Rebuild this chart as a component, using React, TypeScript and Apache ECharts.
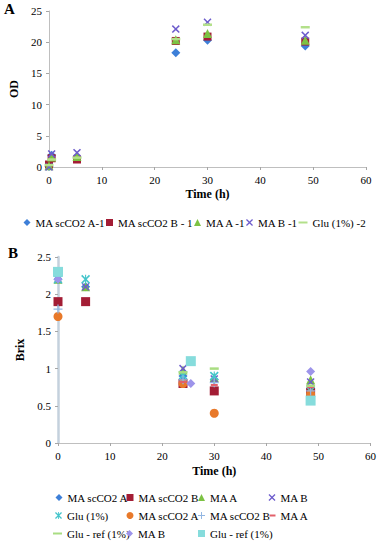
import React, { useEffect, useRef } from "react";
import * as echarts from "echarts";

const FONT = "Liberation Serif";

// ---------- Panel A : OD vs time ----------
const odMAscCO2A1 = [[0, 0.1], [0.5, 1.9], [5.3, 1.6], [24, 18.3], [30, 20.3], [48.5, 19.4]];
const odMAscCO2B1 = [[0, 0.4], [0.5, 1.4], [5.3, 1.2], [24, 20.2], [30, 20.9], [48.5, 20.1]];
const odMAA1 = [[0, 0.2], [0.5, 1.6], [5.3, 1.7], [24, 20.4], [30, 21.4], [48.5, 20.3]];
const odMAB1 = [[0, 0], [0.5, 2.1], [5.3, 2.3], [24, 22.1], [30, 23.2], [48.5, 21.1]];
const odGlu2 = [[0, 0.3], [0.5, 1.2], [5.3, 1.5], [24, 20.5], [30, 22.8], [48.5, 22.4]];

// ---------- Panel B : Brix vs time ----------
const bxMAscCO2A = [[0, 2.2], [5.3, 2.1], [24, 0.9], [30, 0.85], [48.5, 0.7]];
const bxMAscCO2B = [[0, 1.9], [5.3, 1.9], [24, 0.8], [30, 0.7], [48.5, 0.68]];
const bxMAA = [[0, 2.2], [5.3, 2.1], [24, 0.98], [30, 0.88], [48.5, 0.85]];
const bxMAB = [[0, 2.2], [5.3, 2.1], [24, 1.0], [30, 0.86], [48.5, 0.82]];
const bxGlu = [[0, 2.2], [5.3, 2.2], [24, 0.91], [30, 0.9], [48.5, 0.7]];
const bxMAscCO2A2 = [[0, 1.7], [24, 0.8], [30, 0.4], [48.5, 0.66]];
const bxMAscCO2B2 = [[0, 1.8], [24, 0.85], [30, 0.81], [48.5, 0.7]];
const bxMAA2 = [[24, 0.82], [30, 0.78], [48.5, 0.75]];
const bxGluRef = [[24, 0.95], [30, 1.0], [48.5, 0.77]];
const bxMAB2 = [[0, 2.2], [25.5, 0.8], [48.5, 0.96]];
const bxGluRef2 = [[0, 2.3], [25.5, 1.1], [48.5, 0.57]];

const xTicksMax = 60;

const X_PATH =
  "path://M0,1.3L1.3,0L5,3.7L8.7,0L10,1.3L6.3,5L10,8.7L8.7,10L5,6.3L1.3,10L0,8.7L3.7,5Z";
const STAR_PATH =
  "path://M0,1.3L1.3,0L5,3.7L8.7,0L10,1.3L6.3,5L10,8.7L8.7,10L5,6.3L1.3,10L0,8.7L3.7,5Z M4.4,0L5.6,0L5.6,10L4.4,10Z";
const PLUS_PATH = "path://M4.3,0H5.7V4.3H10V5.7H5.7V10H4.3V5.7H0V4.3H4.3Z";

type Def = {
  name: string;
  data: number[][];
  color: string;
  symbol: string;
  size: number | number[];
  panel: number;
  lx: number;
  ly: number;
  iw: number;
  ih: number;
};

const defs: Def[] = [
  { name: "MA scCO2 A-1", data: odMAscCO2A1, color: "#3d7fd8", symbol: "diamond", size: 9, panel: 0, lx: 23.5, ly: 224, iw: 7, ih: 7 },
  { name: "MA scCO2 B - 1", data: odMAscCO2B1, color: "#a31d35", symbol: "rect", size: 8, panel: 0, lx: 106, ly: 224, iw: 7, ih: 7 },
  { name: "MA A -1", data: odMAA1, color: "#7cc243", symbol: "triangle", size: 9, panel: 0, lx: 194, ly: 224, iw: 7, ih: 7 },
  { name: "MA B -1", data: odMAB1, color: "#6d5ccc", symbol: X_PATH, size: 8, panel: 0, lx: 246, ly: 224, iw: 7, ih: 7 },
  { name: "Glu (1%) -2", data: odGlu2, color: "#b3e08a", symbol: "rect", size: [9, 2.5], panel: 0, lx: 298.5, ly: 224, iw: 9, ih: 2 },

  { name: "MA scCO2 A", data: bxMAscCO2A, color: "#3d7fd8", symbol: "diamond", size: 9, panel: 1, lx: 55.5, ly: 499, iw: 7, ih: 7 },
  { name: "MA scCO2 B", data: bxMAscCO2B, color: "#a31d35", symbol: "rect", size: 9, panel: 1, lx: 126.5, ly: 499, iw: 7, ih: 7 },
  { name: "MA A", data: bxMAA, color: "#7cc243", symbol: "triangle", size: 9, panel: 1, lx: 198, ly: 499, iw: 7, ih: 7 },
  { name: "MA B", data: bxMAB, color: "#6d5ccc", symbol: X_PATH, size: 8, panel: 1, lx: 268.5, ly: 499, iw: 7, ih: 7 },
  { name: "Glu (1%)", data: bxGlu, color: "#45c5cb", symbol: STAR_PATH, size: 9, panel: 1, lx: 55, ly: 517, iw: 7, ih: 7 },
  { name: "MA scCO2 A ", data: bxMAscCO2A2, color: "#e8792a", symbol: "circle", size: 9, panel: 1, lx: 126.5, ly: 517, iw: 7, ih: 7 },
  { name: "MA scCO2 B ", data: bxMAscCO2B2, color: "#92b6e2", symbol: PLUS_PATH, size: 9, panel: 1, lx: 198, ly: 517, iw: 7, ih: 7 },
  { name: "MA A ", data: bxMAA2, color: "#e2606a", symbol: "rect", size: [7, 2], panel: 1, lx: 269.5, ly: 517, iw: 6, ih: 2 },
  { name: "Glu - ref (1%)", data: bxGluRef, color: "#a9dd82", symbol: "rect", size: [9, 2.5], panel: 1, lx: 53, ly: 535, iw: 9, ih: 2 },
  { name: "MA B ", data: bxMAB2, color: "#9d94ea", symbol: "diamond", size: 9, panel: 1, lx: 126, ly: 535, iw: 7, ih: 7 },
  { name: "Glu - ref (1%) ", data: bxGluRef2, color: "#86dcdc", symbol: "rect", size: 10, panel: 1, lx: 198, ly: 535, iw: 7, ih: 7 },
];

const textBase = { fontFamily: FONT, fontSize: 11, color: "#000" };

function axisCommon(lineColor: string, lineWidth: number) {
  return {
    axisLine: { show: true, lineStyle: { color: lineColor, width: lineWidth } },
    axisTick: { show: true, length: 3, lineStyle: { color: "#a6a6a6" } },
    axisLabel: { ...textBase, margin: 7 },
    splitLine: { show: false },
    nameTextStyle: { fontFamily: FONT, fontSize: 12, fontWeight: "bold", color: "#000" },
  };
}

export default function App() {
  const ref = useRef<HTMLDivElement>(null);
  useEffect(() => {
    document.body.style.margin = "0";
    const chart = echarts.init(ref.current!, undefined, { renderer: "svg" });
    const option: any = {
      animation: false,
      backgroundColor: "#fff",
      textStyle: { fontFamily: FONT },
      grid: [
        { left: 49, top: 11, width: 317, height: 156 },
        { left: 58, top: 257, width: 314, height: 186 },
      ],
      xAxis: [
        {
          gridIndex: 0, type: "value", min: 0, max: xTicksMax, interval: 10,
          name: "Time (h)", nameLocation: "middle", nameGap: 21,
          ...axisCommon("#bfbfbf", 1),
        },
        {
          gridIndex: 1, type: "value", min: 0, max: xTicksMax, interval: 10,
          name: "Time (h)", nameLocation: "middle", nameGap: 22,
          ...axisCommon("#bfbfbf", 1),
        },
      ],
      yAxis: [
        {
          gridIndex: 0, type: "value", min: 0, max: 25, interval: 5,
          name: "OD", nameLocation: "middle", nameGap: 23,
          ...axisCommon("#bfbfbf", 1),
        },
        {
          gridIndex: 1, type: "value", min: 0, max: 2.5, interval: 0.5,
          name: "Brix", nameLocation: "middle", nameGap: 25,
          ...axisCommon("#c4d1dd", 2.5),
        },
      ],
      legend: defs.map((d) => ({
        left: d.lx,
        top: d.ly - 7,
        padding: 0,
        itemWidth: d.iw,
        itemHeight: d.ih,
        selectedMode: false,
        formatter: (n: string) => n.trim(),
        textStyle: { ...textBase },
        data: [{ name: d.name, icon: d.symbol, itemStyle: { color: d.color } }],
      })),
      graphic: [
        { type: "text", left: 4, top: 1, style: { text: "A", fontFamily: FONT, fontSize: 15, fontWeight: "bold", fill: "#000" } },
        { type: "text", left: 8, top: 245, style: { text: "B", fontFamily: FONT, fontSize: 15, fontWeight: "bold", fill: "#000" } },
      ],
      series: defs.map((d) => ({
        type: "scatter",
        name: d.name,
        xAxisIndex: d.panel,
        yAxisIndex: d.panel,
        data: d.data,
        symbol: d.symbol,
        symbolSize: d.size,
        itemStyle: { color: d.color, opacity: 1 },
        emphasis: { disabled: true },
      })),
    };
    chart.setOption(option);
    return () => chart.dispose();
  }, []);
  return <div ref={ref} style={{ width: 379, height: 542 }} />;
}
